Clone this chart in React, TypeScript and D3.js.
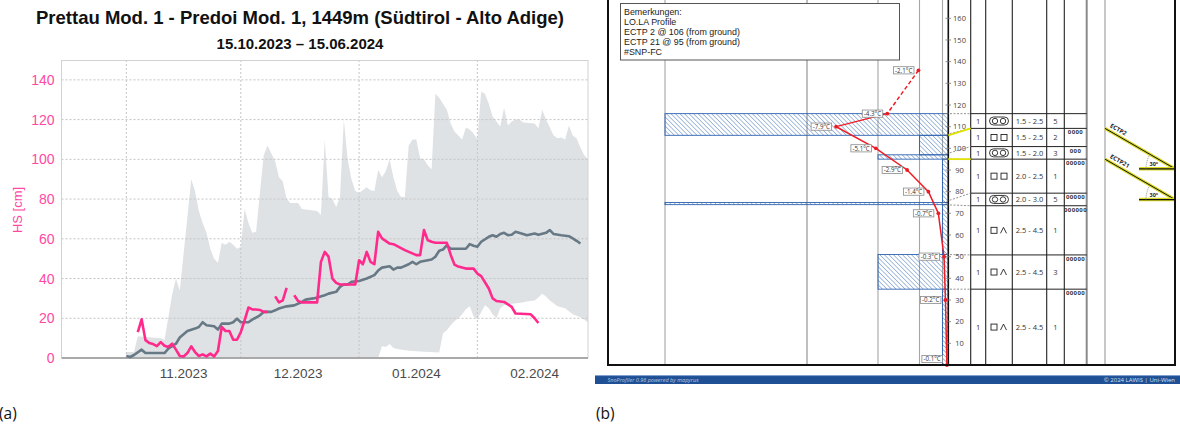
import React from "react";
import * as d3 from "d3";

type Pt = [string, number | null];

// ---------------- Panel (a) data ----------------
const chartTitle = "Prettau Mod. 1 - Predoi Mod. 1, 1449m (Südtirol - Alto Adige)";
const chartSubtitle = "15.10.2023 – 15.06.2024";
const monthStarts = ["2023-11-01", "2023-12-01", "2024-01-01", "2024-02-01"];
const monthLabels = ["11.2023", "12.2023", "01.2024", "02.2024"];
const monthLabelDates = ["2023-11-16", "2023-12-16", "2024-01-16", "2024-02-16"];
const hsTicks = [0, 20, 40, 60, 80, 100, 120, 140];

const hsMaxSeries: Pt[] = [
  ["2023-11-01", 3], ["2023-11-03", 3], ["2023-11-04", 11], ["2023-11-10", 10], ["2023-11-11", 9],
  ["2023-11-13", 32], ["2023-11-14", 40], ["2023-11-15", 34], ["2023-11-17", 71], ["2023-11-18", 90],
  ["2023-11-19", 84], ["2023-11-20", 74], ["2023-11-21", 68], ["2023-11-22", 63], ["2023-11-23", 55],
  ["2023-11-24", 50], ["2023-11-25", 48], ["2023-11-26", 58], ["2023-11-27", 57], ["2023-11-28", 58.5],
  ["2023-11-29", 57], ["2023-11-30", 55], ["2023-12-01", 56], ["2023-12-02", 75], ["2023-12-03", 68],
  ["2023-12-04", 63], ["2023-12-05", 63.5], ["2023-12-06", 83], ["2023-12-07", 102], ["2023-12-08", 107],
  ["2023-12-10", 99], ["2023-12-11", 91], ["2023-12-12", 89], ["2023-12-13", 80], ["2023-12-14", 78],
  ["2023-12-16", 78], ["2023-12-17", 75], ["2023-12-21", 74], ["2023-12-22", 72], ["2023-12-23", 110],
  ["2023-12-24", 81], ["2023-12-25", 80], ["2023-12-26", 76], ["2023-12-27", 81], ["2023-12-28", 120],
  ["2023-12-29", 100], ["2023-12-30", 90], ["2023-12-31", 84], ["2024-01-01", 83], ["2024-01-03", 86],
  ["2024-01-04", 84.5], ["2024-01-05", 84], ["2024-01-06", 94.6], ["2024-01-07", 91], ["2024-01-08", 94],
  ["2024-01-09", 100], ["2024-01-10", 91], ["2024-01-11", 84], ["2024-01-12", 81], ["2024-01-13", 81],
  ["2024-01-14", 107], ["2024-01-15", 110], ["2024-01-16", 110], ["2024-01-17", 100.5], ["2024-01-18", 100],
  ["2024-01-19", 97], ["2024-01-20", 95], ["2024-01-21", 133], ["2024-01-22", 131], ["2024-01-24", 125],
  ["2024-01-25", 118], ["2024-01-26", 114], ["2024-01-28", 110], ["2024-01-29", 116], ["2024-01-30", 115],
  ["2024-01-31", 113], ["2024-02-01", 110], ["2024-02-02", 134], ["2024-02-03", 133], ["2024-02-04", 128],
  ["2024-02-05", 121.5], ["2024-02-06", 119], ["2024-02-07", 116.5], ["2024-02-08", 126], ["2024-02-09", 117],
  ["2024-02-10", 119], ["2024-02-11", 120], ["2024-02-12", 120], ["2024-02-13", 118.5], ["2024-02-16", 118],
  ["2024-02-17", 115.6], ["2024-02-18", 125], ["2024-02-19", 120], ["2024-02-21", 112], ["2024-02-22", 110.6],
  ["2024-02-23", 111], ["2024-02-24", 110], ["2024-02-25", 117], ["2024-02-26", 112], ["2024-02-27", 110.6],
  ["2024-02-28", 106], ["2024-02-29", 102], ["2024-03-01", 100],
];

const hsMinSeries: Pt[] = [
  ["2023-11-01", 0], ["2024-01-06", 0], ["2024-01-07", 6], ["2024-01-08", 5.5], ["2024-01-09", 7],
  ["2024-01-10", 5], ["2024-01-11", 4.5], ["2024-01-14", 3.7], ["2024-01-18", 3.2], ["2024-01-22", 2.8],
  ["2024-01-23", 12.5], ["2024-01-24", 14], ["2024-01-25", 16.5], ["2024-01-26", 18.5], ["2024-01-27", 20],
  ["2024-01-28", 22], ["2024-01-29", 24.5], ["2024-01-30", 26], ["2024-01-31", 21], ["2024-02-01", 19.5],
  ["2024-02-02", 23], ["2024-02-03", 26.5], ["2024-02-04", 25], ["2024-02-05", 22], ["2024-02-06", 20],
  ["2024-02-07", 25], ["2024-02-08", 26.5], ["2024-02-09", 27], ["2024-02-12", 27.7], ["2024-02-14", 28.5],
  ["2024-02-16", 29], ["2024-02-17", 30.5], ["2024-02-18", 32.4], ["2024-02-19", 31], ["2024-02-20", 29],
  ["2024-02-22", 26], ["2024-02-24", 25], ["2024-02-26", 22], ["2024-02-28", 20.5], ["2024-03-01", 18],
];

const hsMedianSeries: Pt[] = [
  ["2023-11-01", 1], ["2023-11-02", 0.5], ["2023-11-03", 1.5], ["2023-11-05", 4.2], ["2023-11-06", 2.5],
  ["2023-11-08", 2.5], ["2023-11-11", 2.5], ["2023-11-12", 4.7], ["2023-11-14", 7.2], ["2023-11-15", 10.3],
  ["2023-11-17", 13.6], ["2023-11-19", 14.8], ["2023-11-20", 15.6], ["2023-11-21", 18], ["2023-11-22", 16.5],
  ["2023-11-24", 16], ["2023-11-25", 14.3], ["2023-11-26", 17.3], ["2023-11-28", 17.3], ["2023-11-29", 18],
  ["2023-11-30", 19.8], ["2023-12-01", 18], ["2023-12-03", 18], ["2023-12-04", 19.3], ["2023-12-06", 21.5],
  ["2023-12-07", 23.2], ["2023-12-09", 23.2], ["2023-12-10", 24], ["2023-12-11", 24.9], ["2023-12-13", 26],
  ["2023-12-15", 26.5], ["2023-12-17", 28.2], ["2023-12-18", 29.4], ["2023-12-20", 30], ["2023-12-21", 30.4],
  ["2023-12-23", 31.6], ["2023-12-24", 32.4], ["2023-12-26", 33.3], ["2023-12-27", 35.8], ["2023-12-28", 37],
  ["2023-12-29", 37], ["2023-12-30", 38.3], ["2024-01-01", 38.8], ["2024-01-03", 40], ["2024-01-05", 41.7],
  ["2024-01-06", 44], ["2024-01-07", 45.5], ["2024-01-09", 46.2], ["2024-01-10", 44.5], ["2024-01-11", 45.5],
  ["2024-01-12", 45.5], ["2024-01-14", 47.2], ["2024-01-15", 48.4], ["2024-01-16", 47.2], ["2024-01-17", 48.4],
  ["2024-01-19", 49.2], ["2024-01-20", 49.6], ["2024-01-21", 51], ["2024-01-22", 54], ["2024-01-23", 54.6],
  ["2024-01-24", 56.8], ["2024-01-25", 55], ["2024-01-29", 55], ["2024-01-30", 57.3], ["2024-01-31", 56.5],
  ["2024-02-01", 56], ["2024-02-02", 58.5], ["2024-02-04", 61], ["2024-02-05", 61.8], ["2024-02-06", 61],
  ["2024-02-07", 62.4], ["2024-02-08", 63], ["2024-02-09", 61.8], ["2024-02-10", 62], ["2024-02-11", 63.5],
  ["2024-02-13", 62.4], ["2024-02-14", 61.8], ["2024-02-16", 62.7], ["2024-02-17", 62], ["2024-02-18", 62.5],
  ["2024-02-19", 63], ["2024-02-20", 64.4], ["2024-02-21", 62.4], ["2024-02-23", 61.8], ["2024-02-25", 61.3],
  ["2024-02-26", 60.2], ["2024-02-27", 59], ["2024-02-28", 57.6],
];

const hsObservedSeries: Pt[] = [
  ["2023-11-04", 13], ["2023-11-05", 19.5], ["2023-11-06", 9], ["2023-11-07", 7.5], ["2023-11-08", 7],
  ["2023-11-09", 6], ["2023-11-10", 8], ["2023-11-11", 6.2], ["2023-11-12", 5.5], ["2023-11-13", 7.2],
  ["2023-11-14", 4.2], ["2023-11-15", 1], ["2023-11-16", 0.8], ["2023-11-17", 2.5], ["2023-11-18", 5.9],
  ["2023-11-19", 3], ["2023-11-20", 1], ["2023-11-21", 1.8], ["2023-11-22", 0.8], ["2023-11-23", 2.2],
  ["2023-11-24", 0.8], ["2023-11-25", 3.5], ["2023-11-26", 15.6], ["2023-11-27", 13.6], ["2023-11-28", 13.6],
  ["2023-11-29", 9.2], ["2023-11-30", 9.2], ["2023-12-01", 13], ["2023-12-02", 19], ["2023-12-03", 25.4],
  ["2023-12-04", 24.5], ["2023-12-05", 24.4], ["2023-12-06", 24.2], ["2023-12-07", 23.2], ["2023-12-08", 23.2],
  ["2023-12-09", null],
  ["2023-12-10", 31], ["2023-12-11", 28], ["2023-12-12", 29], ["2023-12-13", 35.3],
  ["2023-12-14", null],
  ["2023-12-15", 31.6], ["2023-12-16", 28.7], ["2023-12-17", 28], ["2023-12-21", 28], ["2023-12-22", 48.4],
  ["2023-12-23", 53.4], ["2023-12-24", 51], ["2023-12-25", 40], ["2023-12-26", 37.8], ["2023-12-27", 37],
  ["2023-12-31", 37], ["2024-01-01", 49.2], ["2024-01-02", 47.2], ["2024-01-03", 53.4], ["2024-01-04", 48.4],
  ["2024-01-05", 47.2], ["2024-01-06", 63.5], ["2024-01-07", 60.2], ["2024-01-09", 57.6], ["2024-01-10", 57.3],
  ["2024-01-13", 54.3], ["2024-01-16", 51.8], ["2024-01-17", 51.8], ["2024-01-18", 64.4], ["2024-01-19", 59.3],
  ["2024-01-20", 58.5], ["2024-01-21", 58], ["2024-01-24", 58], ["2024-01-25", 52], ["2024-01-26", 47],
  ["2024-01-27", 46], ["2024-01-28", 45.5], ["2024-01-29", 45], ["2024-01-31", 45], ["2024-02-01", 42.5],
  ["2024-02-02", 41.2], ["2024-02-04", 35], ["2024-02-05", 30], ["2024-02-06", 28.7], ["2024-02-08", 28.2],
  ["2024-02-09", 27], ["2024-02-10", 25.7], ["2024-02-11", 22.4], ["2024-02-15", 22], ["2024-02-16", 20],
  ["2024-02-17", 17.6],
];

// ---------------- Panel (b) data ----------------
const remarks = ["Bemerkungen:", "LO.LA Profile", "ECTP 2 @ 106 (from ground)", "ECTP 21 @ 95 (from ground)", "#SNP-FC"];
const heightTicks = [10, 20, 30, 40, 50, 60, 70, 80, 90, 100, 110, 120, 130, 140, 150, 160];
const layerTops = [116, 106, 97, 95, 75, 74, 51, 35];
const layerHardness = [5, 2, 3, 1, 5, 1, 3, 1];
const tableRowTops = [116, 109.2, 100.8, 95, 79.3, 73.5, 50.8, 35];
const layerWetness = ["1", "1", "1", "1", "1", "1", "1", "1"];
const layerGrainForms = ["MFcr", "FC", "MFcr", "FC", "MFcr", "FCdh", "FCdh", "FCdh"];
const layerGrainSizes = ["1.5 - 2.5", "1.5 - 2.5", "1.5 - 2.0", "2.0 - 2.5", "2.0 - 3.0", "2.5 - 4.5", "2.5 - 4.5", "2.5 - 4.5"];
const layerMarks = ["", "0000", "000", "00000", "00000", "000000", "00000", "00000"];
const tempHeights = [136, 116, 110, 100, 90, 80, 70, 50, 30, 0];
const tempValues = [-2.1, -4.3, -7.9, -5.1, -2.9, -1.4, -0.7, -0.3, -0.2, -0.1];
const testNames = ["ECTP2", "ECTP21"];
const testHeights = [106, 95];
const testAngles = [30, 30];

const parse = (s: string) => new Date(s + "T00:00:00Z");

const PINK = "#ff2a8c";
const PINK_TXT = "#ff48a2";

function PanelA() {
  const x = d3.scaleUtc().domain([parse("2023-10-15"), parse("2024-03-01")]).range([61.5, 588]);
  const y = d3.scaleLinear().domain([0, 150]).range([358, 60]);
  const px = (d: Pt) => x(parse(d[0]));
  const area = d3.area<Pt>().x(px).y0(y(0)).y1((d) => y(d[1] as number));
  const line = d3.line<Pt>().defined((d) => d[1] !== null).x(px).y((d) => y(d[1] as number));
  const [x0, x1] = x.range();
  return (
    <g>
      <text x={300} y={24} textAnchor="middle" fontFamily="'Liberation Sans', Arial, sans-serif" fontWeight="bold" fontSize={18.5} fill="#111">{chartTitle}</text>
      <text x={300} y={48.5} textAnchor="middle" fontFamily="'Liberation Sans', Arial, sans-serif" fontWeight="bold" fontSize={15} fill="#111">{chartSubtitle}</text>
      <path d={area(hsMaxSeries) || ""} fill="#dfe2e5" />
      <path d={area(hsMinSeries) || ""} fill="#ffffff" />
      {hsTicks.filter((t) => t > 0).map((t) => (
        <line key={"h" + t} x1={x0} x2={x1} y1={y(t)} y2={y(t)} stroke="#c4c4c4" strokeDasharray="2,2" strokeWidth={1} />
      ))}
      {monthStarts.map((m) => (
        <line key={"v" + m} x1={x(parse(m))} x2={x(parse(m))} y1={60} y2={358} stroke="#c4c4c4" strokeDasharray="2,2" strokeWidth={1} />
      ))}
      <line x1={x0} x2={x1} y1={60.5} y2={60.5} stroke="#d2d2d2" />
      <line x1={x0} x2={x0} y1={60} y2={358} stroke="#d2d2d2" />
      <line x1={x1} x2={x1} y1={60} y2={358} stroke="#d2d2d2" />
      <line x1={x0} x2={x1} y1={358} y2={358} stroke="#a9a9a9" strokeWidth={2} />
      <path d={line(hsMedianSeries) || ""} fill="none" stroke="#687986" strokeWidth={2.6} strokeLinejoin="round" />
      <path d={line(hsObservedSeries) || ""} fill="none" stroke={PINK} strokeWidth={2.6} strokeLinejoin="round" />
      {hsTicks.map((t) => (
        <text key={"yl" + t} x={54.5} y={y(t) + 5} textAnchor="end" fontFamily="'Liberation Sans', Arial, sans-serif" fontSize={14} fill={PINK_TXT}>{t}</text>
      ))}
      <text transform="translate(22,210) rotate(-90)" textAnchor="middle" fontFamily="'Liberation Sans', Arial, sans-serif" fontSize={13} fill={PINK_TXT}>HS [cm]</text>
      {monthLabels.map((l, i) => (
        <text key={l} x={x(parse(monthLabelDates[i]))} y={377.5} textAnchor="middle" fontFamily="'Liberation Sans', Arial, sans-serif" fontSize={13.5} fill="#4a4a4a">{l}</text>
      ))}
    </g>
  );
}

function GrainSymbol({ kind, cx, cy }: { kind: string; cx: number; cy: number }) {
  const s = "#222";
  if (kind === "MFcr") {
    return (
      <g fill="none" stroke={s} strokeWidth={0.9}>
        <rect x={cx - 9.5} y={cy - 4} width={19} height={8} rx={4} />
        <circle cx={cx - 4} cy={cy} r={2.7} />
        <circle cx={cx + 4} cy={cy} r={2.7} />
      </g>
    );
  }
  if (kind === "FC") {
    return (
      <g fill="none" stroke={s} strokeWidth={0.9}>
        <rect x={cx - 8} y={cy - 3} width={6} height={6} />
        <rect x={cx + 2} y={cy - 3} width={6} height={6} />
      </g>
    );
  }
  return (
    <g fill="none" stroke={s} strokeWidth={0.9}>
      <rect x={cx - 8} y={cy - 3} width={6} height={6} />
      <path d={`M${cx + 1.5},${cy + 3} L${cx + 4.5},${cy - 3} L${cx + 7.5},${cy + 3}`} />
    </g>
  );
}

function PanelB() {
  const font = "'Open Sans', 'Noto Sans', sans-serif";
  const axisX = 948.3;
  const hy = d3.scaleLinear().domain([0, 160]).range([365, 18.3]);
  const tx = d3.scaleLinear().domain([-8, 0]).range([axisX - 8 * 14.2, axisX]);
  const hardX = d3.scaleLinear().domain([0, 1, 2, 3, 4, 5, 6]).range([axisX, 942.5, 919.5, 878, 807, 665, 608]);
  const toTable = d3.scaleLinear().domain([0, ...layerTops.slice().reverse()]).range([0, ...tableRowTops.slice().reverse()]);
  const tableCols = [970.7, 985.7, 1012.3, 1046.7, 1064.3];
  const tableRight = 1086.7;
  const testLeft = 1105;
  const frameRight = 1175;
  const frameLeft = 608;
  const bottom = 365;

  const tempPts = tempHeights.map((h, i) => [tx(tempValues[i]), hy(h)] as [number, number]);
  const tline = d3.line<[number, number]>();
  const tan = (a: number) => Math.tan((a * Math.PI) / 180);

  return (
    <g>
      <defs>
        <pattern id="hatch" width={3.2} height={3.2} patternUnits="userSpaceOnUse" patternTransform="rotate(-45)">
          <line x1={0} y1={0} x2={0} y2={3.2} stroke="#3c6fb8" strokeWidth={0.9} />
        </pattern>
      </defs>
      {/* hardness grid lines */}
      {[1, 2, 3, 4, 5].map((k) => (
        <line key={"hg" + k} x1={hardX(k)} x2={hardX(k)} y1={0} y2={bottom} stroke={k === 4 ? "#8a8a8a" : "#a5a5a5"} strokeWidth={1.1} />
      ))}
      {/* layers */}
      {layerTops.map((top, i) => {
        const bot = i + 1 < layerTops.length ? layerTops[i + 1] : 0;
        const x = hardX(layerHardness[i]);
        return (
          <rect key={"L" + i} x={x} y={hy(top)} width={axisX - x} height={hy(bot) - hy(top)} fill="url(#hatch)" stroke="#2e63b0" strokeWidth={0.9} />
        );
      })}
      {/* remarks */}
      <rect x={620.5} y={3.5} width={279} height={56.5} fill="#fff" stroke="#555" strokeWidth={1} />
      {remarks.map((r, i) => (
        <text key={"r" + i} x={624} y={14.5 + i * 10.1} fontFamily="'Liberation Sans', Arial, sans-serif" fontSize={8.9} fill="#222">{r}</text>
      ))}
      {/* table columns */}
      <line x1={axisX} x2={axisX} y1={0} y2={bottom} stroke="#111" strokeWidth={1.6} />
      {tableCols.map((c) => (
        <line key={"tc" + c} x1={c} x2={c} y1={0} y2={bottom} stroke="#222" strokeWidth={1.1} />
      ))}
      <line x1={tableRight} x2={tableRight} y1={0} y2={bottom} stroke="#8c8c8c" strokeWidth={2} />
      <line x1={testLeft} x2={testLeft} y1={0} y2={bottom} stroke="#9a9a9a" strokeWidth={1.1} />
      {/* table rows */}
      {tableRowTops.map((t, i) => {
        const b = i + 1 < tableRowTops.length ? tableRowTops[i + 1] : 0;
        const yt = hy(t);
        const yb = hy(b);
        const cy = (yt + yb) / 2;
        return (
          <g key={"row" + i}>
            <line x1={tableCols[0]} x2={tableRight} y1={yt} y2={yt} stroke="#222" strokeWidth={1} />
            <text x={978.2} y={cy + 2.7} textAnchor="middle" fontFamily={font} fontSize={7.5} fill="#333">{layerWetness[i]}</text>
            <GrainSymbol kind={layerGrainForms[i]} cx={999} cy={cy} />
            <text x={1029.5} y={cy + 2.7} textAnchor="middle" fontFamily={font} fontSize={7.5} fill="#333">{layerGrainSizes[i]}</text>
            <text x={1055.5} y={cy + 2.7} textAnchor="middle" fontFamily={font} fontSize={7.5} fill="#333">{layerHardness[i]}</text>
            <text x={1075.5} y={yt + 6} textAnchor="middle" fontFamily={font} fontSize={6} fontWeight="bold" letterSpacing={0.4} fill="#333">{layerMarks[i]}</text>
          </g>
        );
      })}
      {/* connectors */}
      {layerTops.map((t, i) => (
        <line key={"cn" + i} x1={943} x2={tableCols[0]} y1={hy(t)} y2={hy(tableRowTops[i])} stroke="#777" strokeWidth={0.8} strokeDasharray="2,1.5" />
      ))}
      {testHeights.map((h, i) => (
        <line key={"cy" + i} x1={axisX} x2={tableCols[0]} y1={hy(h)} y2={hy(toTable(h))} stroke="#e2e200" strokeWidth={1.8} />
      ))}
      {/* height axis */}
      {heightTicks.map((h) => (
        <g key={"ht" + h}>
          <line x1={945.5} x2={951} y1={hy(h)} y2={hy(h)} stroke="#777" strokeWidth={0.8} />
          <text x={959.5} y={hy(h) + 2.6} textAnchor="middle" fontFamily={font} fontSize={7.5} fill="#444">{h}</text>
        </g>
      ))}
      {/* temperature profile */}
      <path d={tline(tempPts.slice(0, 2)) || ""} fill="none" stroke="#ee1c24" strokeWidth={1.5} strokeDasharray="4,2.5" />
      <path d={tline(tempPts.slice(1)) || ""} fill="none" stroke="#ee1c24" strokeWidth={1.5} />
      {tempPts.map(([px, py], i) => {
        const cy = Math.min(py, bottom - 6);
        const w = 20.5;
        const bx = px - 4.5 - w;
        return (
          <g key={"tp" + i}>
            <circle cx={px} cy={py} r={1.9} fill="#ee1c24" />
            <rect x={bx} y={cy - 3.6} width={w} height={7.2} fill="#fff" stroke="#8a8a8a" strokeWidth={0.8} />
            <text x={bx + w / 2} y={cy + 2.2} textAnchor="middle" fontFamily={font} fontSize={6.2} fill="#333">{tempValues[i].toFixed(1) + "°C"}</text>
          </g>
        );
      })}
      {/* stability tests */}
      {testNames.map((name, i) => {
        const sy = hy(toTable(testHeights[i]));
        const ey = sy + (frameRight - testLeft) * tan(testAngles[i]);
        const r = 29;
        const a = (testAngles[i] * Math.PI) / 180;
        return (
          <g key={"t" + name}>
            <line x1={testLeft} x2={frameRight} y1={sy} y2={ey} stroke="#dada22" strokeWidth={3.2} />
            <line x1={testLeft} x2={frameRight} y1={sy} y2={ey} stroke="#111" strokeWidth={1} />
            <line x1={1139} x2={frameRight} y1={ey} y2={ey} stroke="#dada22" strokeWidth={3.4} />
            <line x1={1139} x2={frameRight} y1={ey} y2={ey} stroke="#111" strokeWidth={1.2} />
            <path d={`M${frameRight - r},${ey} A${r},${r} 0 0 1 ${frameRight - r * Math.cos(a)},${ey - r * Math.sin(a)}`} fill="none" stroke="#777" strokeWidth={0.8} strokeDasharray="1,1" />
            <text x={1149.5} y={ey - 3} fontFamily={font} fontSize={5.5} fontWeight="bold" fill="#222">{testAngles[i] + "°"}</text>
            <text transform={`translate(${testLeft + 4.5},${sy - 1.5}) rotate(${testAngles[i]})`} fontFamily={font} fontSize={6} fontWeight="bold" fill="#222">{name}</text>
          </g>
        );
      })}
      {/* frame */}
      <line x1={frameLeft} x2={frameLeft} y1={0} y2={bottom + 1} stroke="#111" strokeWidth={2} />
      <line x1={frameRight} x2={frameRight} y1={0} y2={bottom + 1} stroke="#111" strokeWidth={2} />
      <line x1={frameLeft} x2={frameRight} y1={bottom} y2={bottom} stroke="#111" strokeWidth={2} />
      {/* footer */}
      <rect x={595} y={375.5} width={585} height={8.5} fill="#1f4f94" />
      <line x1={595} x2={1180} y1={375.6} y2={375.6} stroke="#7f9dcf" strokeWidth={0.8} />
      <text x={607.5} y={382.4} fontFamily={font} fontSize={5.5} fontStyle="italic" fill="#b9c7e0">SnoProfiler 0.96 powered by mapyrus</text>
      <text x={1175} y={382.4} textAnchor="end" fontFamily={font} fontSize={6} fill="#d9e1ef">© 2024 LAWIS | Uni-Wien</text>
    </g>
  );
}

export default function App() {
  return (
    <svg width={1180} height={430} viewBox="0 0 1180 430" style={{ position: "absolute", left: 0, top: 0, background: "#fff" }}>
      <rect x={0} y={0} width={1180} height={430} fill="#fff" />
      <PanelA />
      <PanelB />
      <text x={-1} y={419} fontFamily="'Open Sans', 'Noto Sans', sans-serif" fontSize={15.5} fill="#111">(a)</text>
      <text x={596} y={419} fontFamily="'Open Sans', 'Noto Sans', sans-serif" fontSize={15.5} fill="#111">(b)</text>
    </svg>
  );
}
